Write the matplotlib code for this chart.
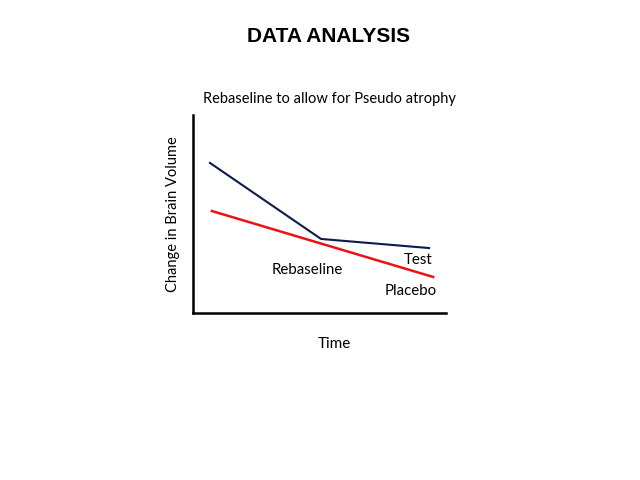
import matplotlib
matplotlib.use("Agg")
import matplotlib.pyplot as plt

# arbitrary time / volume units
time_test = [0.67, 5.06, 9.33]
volume_test = [7.58, 3.74, 3.28]
time_placebo = [0.75, 9.49]
volume_placebo = [5.15, 1.82]

labels = ["Test", "Rebaseline", "Placebo"]
label_x = [8.89, 4.51, 8.62]
label_y = [2.68, 2.17, 1.11]

W, H = 640, 480
fig = plt.figure(figsize=(6.4, 4.8), dpi=100)
fig.text(329 / W, 1 - 37 / H, "DATA ANALYSIS", ha="center", va="center",
         fontsize=15, fontweight="bold", family="Liberation Sans")
fig.text(329 / W, 1 - 99 / H, "Rebaseline to allow for Pseudo atrophy",
         ha="center", va="center", fontsize=10.5, family="Lato")

ax = fig.add_axes([193 / W, 1 - 313 / H, (446 - 193) / W, (313 - 115) / H])
ax.plot(time_test, volume_test, color="#0d1a4f", lw=1.5)
ax.plot(time_placebo, volume_placebo, color="#ee1111", lw=1.8)
for t, x, y in zip(labels, label_x, label_y):
    ax.text(x, y, t, ha="center", va="center", fontsize=10.8, family="Lato")

ax.set_xlim(0, 10)
ax.set_ylim(0, 10)
ax.set_xticks([])
ax.set_yticks([])
for s in ["top", "right"]:
    ax.spines[s].set_visible(False)
for s in ["left", "bottom"]:
    ax.spines[s].set_linewidth(1.8)
ax.set_xlabel("Time", fontsize=11, family="Lato")
ax.xaxis.set_label_coords(0.557, -0.12)
ax.set_ylabel("Change in Brain Volume", fontsize=10.5, family="Lato", labelpad=9)

fig.savefig("out.png", dpi=100)
